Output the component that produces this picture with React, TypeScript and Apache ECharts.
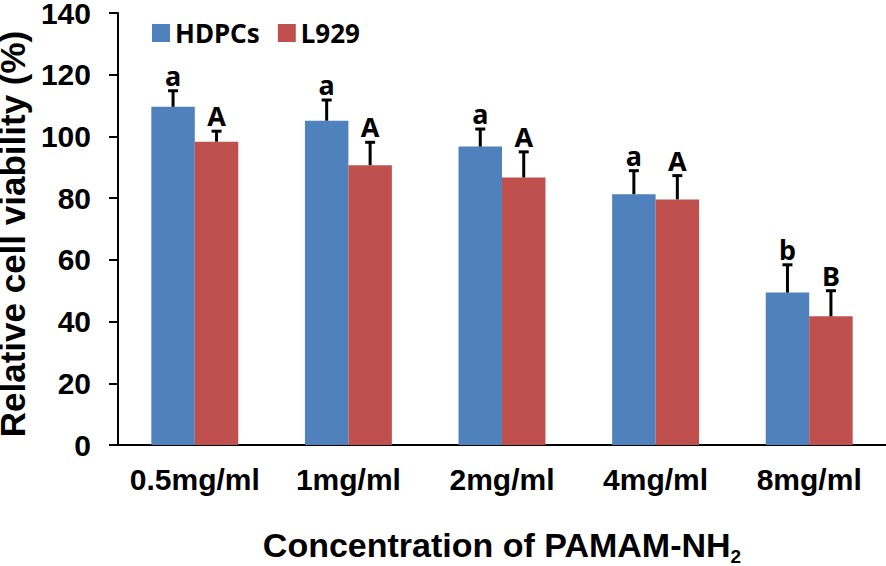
import React, { useEffect, useRef } from "react";
import * as echarts from "echarts";

const categories = ["0.5mg/ml", "1mg/ml", "2mg/ml", "4mg/ml", "8mg/ml"];
const hdpcValues = [109.6, 105.1, 96.7, 81.3, 49.4];
const hdpcErrors = [5.2, 6.7, 5.7, 7.6, 9.0];
const l929Values = [98.3, 90.7, 86.7, 79.6, 41.7];
const l929Errors = [3.4, 7.4, 8.3, 7.7, 8.3];
const hdpcLetters = ["a", "a", "a", "a", "b"];
const l929Letters = ["A", "A", "A", "A", "B"];
const yTicks = { min: 0, max: 140, interval: 20 };

const BLUE = "#4F81BD";
const RED = "#C0504D";
const BAR_FRAC = 0.283;

function errorSeries(values: number[], errors: number[], letters: string[], side: number) {
  return {
    type: "custom",
    silent: true,
    z: 5,
    data: values.map((v, i) => [i, v, errors[i]]),
    renderItem: (params: any, api: any) => {
      const idx = api.value(0);
      const v = api.value(1);
      const e = api.value(2);
      const letter = letters[idx];
      const band = api.size([1, 0])[0];
      const base = api.coord([idx, v]);
      const top = api.coord([idx, v + e]);
      const x = base[0] + side * band * BAR_FRAC / 2;
      const lineStyle = { stroke: "#000", lineWidth: 3 };
      return {
        type: "group",
        children: [
          { type: "line", shape: { x1: x, y1: base[1], x2: x, y2: top[1] }, style: lineStyle },
          { type: "line", shape: { x1: x - 5, y1: top[1], x2: x + 5, y2: top[1] }, style: lineStyle },
          {
            type: "text",
            style: {
              x: x,
              y: top[1] - 2,
              text: letter,
              fill: "#000",
              fontSize: 27,
              fontWeight: "bold",
              fontFamily: "Noto Sans",
              align: "center",
              verticalAlign: "bottom",
            },
          },
        ],
      };
    },
  };
}

export default function App() {
  const ref = useRef<HTMLDivElement>(null);
  useEffect(() => {
    if (!ref.current) return;
    const chart = echarts.init(ref.current, undefined, { renderer: "svg" });
    chart.setOption({
      animation: false,
      backgroundColor: "#fff",
      grid: { left: 118, right: 0, top: 13, bottom: 121, containLabel: false, outerBoundsMode: "none" },
      legend: {
        left: 152,
        top: 20,
        padding: 0,
        itemWidth: 18,
        itemHeight: 18,
        itemGap: 18,
        icon: "rect",
        textStyle: { fontSize: 26, fontWeight: "bold", fontFamily: "Noto Sans", color: "#000" },
        data: ["HDPCs", "L929"],
      },
      xAxis: {
        type: "category",
        data: categories,
        axisLine: { lineStyle: { color: "#000", width: 2 } },
        axisTick: { show: false },
        axisLabel: { interval: 0, fontSize: 30, fontWeight: "bold", fontFamily: "Liberation Sans", color: "#000", margin: 19 },
        name: "{m|Concentration of PAMAM-NH}{sub|2}",
        nameLocation: "middle",
        nameGap: 82,
        nameTextStyle: {
          color: "#000",
          rich: {
            m: { fontSize: 34, lineHeight: 35, fontWeight: "bold", fontFamily: "Liberation Sans", color: "#000" },
            sub: { fontSize: 19, lineHeight: 14, fontWeight: "bold", fontFamily: "Liberation Sans", color: "#000", padding: [24, 0, 0, 0] },
          },
        },
      },
      yAxis: {
        type: "value",
        min: yTicks.min,
        max: yTicks.max,
        interval: yTicks.interval,
        splitLine: { show: false },
        axisLine: { show: true, lineStyle: { color: "#000", width: 2 } },
        axisTick: { show: true, length: 9, lineStyle: { color: "#000", width: 2 } },
        axisLabel: { fontSize: 30, lineHeight: 26, fontWeight: "bold", fontFamily: "Liberation Sans", color: "#000", margin: 27 },
        name: "Relative cell viability (%)",
        nameLocation: "middle",
        nameGap: 85,
        nameTextStyle: { fontSize: 35, lineHeight: 34, fontWeight: "bold", fontFamily: "Liberation Sans", color: "#000", padding: [0, 10, 0, 0] },
      },
      series: [
        {
          name: "HDPCs",
          type: "bar",
          data: hdpcValues,
          barWidth: (BAR_FRAC * 100).toFixed(1) + "%",
          barGap: "0%",
          itemStyle: { color: BLUE },
        },
        {
          name: "L929",
          type: "bar",
          data: l929Values,
          barWidth: (BAR_FRAC * 100).toFixed(1) + "%",
          barGap: "0%",
          itemStyle: { color: RED },
        },
        errorSeries(hdpcValues, hdpcErrors, hdpcLetters, -1),
        errorSeries(l929Values, l929Errors, l929Letters, 1),
      ],
    });
    return () => chart.dispose();
  }, []);
  return <div ref={ref} style={{ position: "fixed", left: 0, top: 0, width: 886, height: 566 }} />;
}
